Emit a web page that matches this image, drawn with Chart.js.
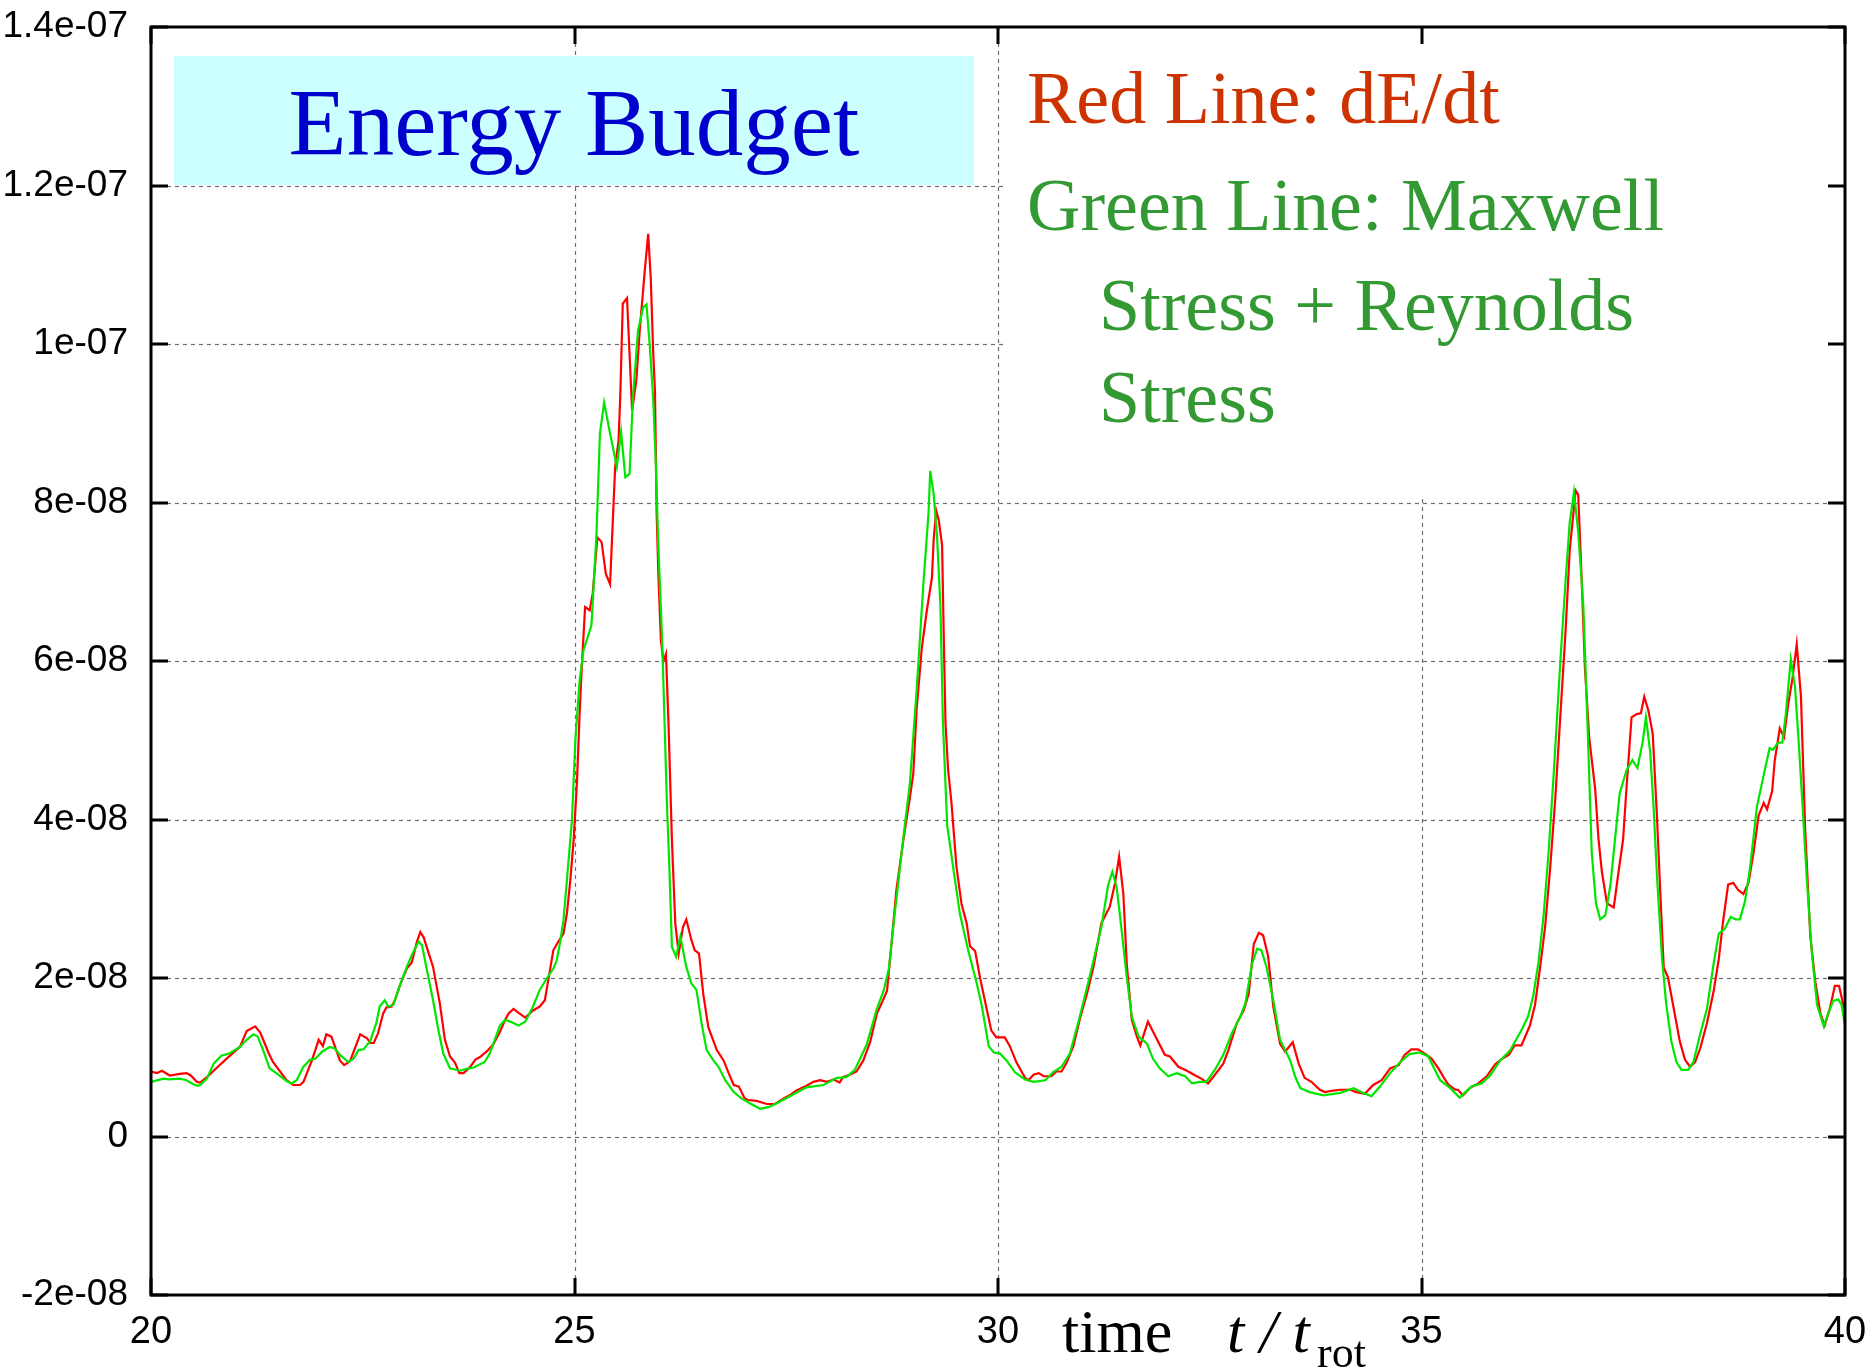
<!DOCTYPE html>
<html>
<head>
<meta charset="utf-8">
<title>Energy Budget</title>
<script src="https://cdn.jsdelivr.net/npm/chart.js@4.4.0/dist/chart.umd.min.js"></script>
<style>
  html, body { margin: 0; padding: 0; background: #ffffff; }
  #wrap { width: 1870px; height: 1372px; }
</style>
</head>
<body>
<div id="wrap"><canvas id="c" width="1870" height="1372"></canvas></div>
<script>
// Series values are listed in units of 1e-8.
const VALUE_UNIT = 1e-8;

// dE/dt (red)
const redTime = [
  20.00,20.07,20.13,20.22,20.34,20.42,20.47,20.54,20.58,20.66,
  20.78,20.89,21.05,21.13,21.23,21.29,21.39,21.44,21.60,21.68,
  21.76,21.80,21.90,21.98,22.03,22.07,22.13,22.23,22.28,22.35,
  22.47,22.55,22.59,22.63,22.68,22.74,22.78,22.84,22.88,22.94,
  23.02,23.08,23.14,23.18,23.22,23.33,23.41,23.47,23.53,23.59,
  23.64,23.69,23.77,23.83,23.88,23.96,24.04,24.12,24.18,24.22,
  24.28,24.34,24.42,24.51,24.59,24.65,24.69,24.75,24.81,24.87,
  24.91,24.95,24.99,25.03,25.06,25.085,25.125,25.18,25.215,25.27,
  25.32,25.37,25.42,25.48,25.52,25.54,25.57,25.62,25.68,25.73,
  25.77,25.83,25.87,25.90,25.93,25.95,25.97,25.99,26.02,26.05,
  26.08,26.11,26.15,26.19,26.23,26.28,26.32,26.38,26.42,26.47,
  26.52,26.58,26.68,26.76,26.82,26.88,26.94,27.01,27.05,27.15,
  27.27,27.37,27.47,27.54,27.62,27.74,27.82,27.90,27.98,28.06,
  28.13,28.17,28.25,28.33,28.41,28.49,28.57,28.63,28.69,28.74,
  28.80,28.88,28.96,29.00,29.04,29.10,29.16,29.22,29.24,29.27,
  29.30,29.34,29.36,29.38,29.41,29.45,29.51,29.57,29.63,29.67,
  29.73,29.79,29.85,29.92,29.98,30.08,30.14,30.22,30.32,30.36,
  30.42,30.48,30.54,30.63,30.69,30.75,30.81,30.89,30.97,31.05,
  31.13,31.22,31.32,31.38,31.43,31.48,31.52,31.58,31.64,31.68,
  31.77,31.87,31.97,32.03,32.13,32.23,32.33,32.40,32.48,32.54,
  32.66,32.72,32.82,32.90,32.96,33.02,33.08,33.13,33.19,33.25,
  33.33,33.39,33.48,33.55,33.62,33.70,33.80,33.86,33.96,34.04,
  34.16,34.23,34.33,34.43,34.53,34.63,34.73,34.80,34.88,34.96,
  35.06,35.12,35.20,35.26,35.32,35.40,35.43,35.49,35.57,35.67,
  35.77,35.87,35.95,36.03,36.10,36.18,36.28,36.34,36.40,36.46,
  36.52,36.58,36.64,36.70,36.75,36.82,36.85,36.89,36.93,36.98,
  37.05,37.09,37.13,37.19,37.27,37.32,37.38,37.42,37.48,37.54,
  37.59,37.63,37.68,37.73,37.78,37.82,37.86,37.91,37.97,38.05,
  38.11,38.17,38.23,38.29,38.37,38.45,38.51,38.56,38.62,38.68,
  38.74,38.80,38.86,38.92,38.98,39.04,39.08,39.14,39.17,39.23,
  39.28,39.33,39.38,39.43,39.48,39.53,39.59,39.65,39.71,39.76,
  39.82,39.88,39.93,39.98,40.00
];
const redValue = [
  0.82,0.80,0.83,0.77,0.79,0.80,0.77,0.69,0.68,0.75,
  0.87,0.98,1.13,1.33,1.39,1.31,1.05,0.94,0.71,0.65,
  0.65,0.69,0.96,1.22,1.14,1.29,1.26,0.96,0.90,0.95,
  1.29,1.24,1.18,1.18,1.30,1.55,1.63,1.64,1.72,1.91,
  2.12,2.20,2.46,2.58,2.51,2.14,1.68,1.22,1.01,0.93,
  0.80,0.80,0.88,0.97,1.00,1.07,1.16,1.32,1.47,1.55,
  1.61,1.56,1.50,1.59,1.64,1.72,1.97,2.35,2.46,2.56,
  2.81,3.23,3.74,4.49,5.33,5.90,6.68,6.64,6.85,7.56,
  7.50,7.10,6.97,8.45,8.78,9.33,10.51,10.58,9.16,9.54,
  10.17,10.93,11.39,10.84,9.87,9.41,7.86,7.10,6.26,6.00,
  6.09,5.21,3.74,2.69,2.31,2.64,2.74,2.48,2.35,2.31,
  1.80,1.38,1.09,0.96,0.80,0.65,0.63,0.48,0.46,0.45,
  0.41,0.41,0.48,0.52,0.58,0.64,0.69,0.71,0.69,0.72,
  0.68,0.75,0.78,0.82,0.96,1.19,1.55,1.69,1.84,2.40,
  3.11,3.72,4.28,4.58,5.40,6.16,6.64,7.05,7.52,7.90,
  7.78,7.46,6.28,5.22,4.64,4.22,3.40,2.93,2.69,2.40,
  2.34,1.99,1.69,1.34,1.25,1.25,1.14,0.93,0.74,0.71,
  0.78,0.80,0.76,0.76,0.82,0.82,0.93,1.14,1.50,1.80,
  2.15,2.69,2.90,3.19,3.53,3.06,2.18,1.47,1.26,1.15,
  1.45,1.24,1.03,1.01,0.88,0.83,0.77,0.73,0.67,0.75,
  0.92,1.09,1.43,1.59,1.80,2.43,2.57,2.54,2.27,1.64,
  1.17,1.07,1.19,0.92,0.74,0.69,0.59,0.56,0.58,0.59,
  0.59,0.56,0.54,0.65,0.71,0.86,0.90,1.03,1.10,1.10,
  1.03,0.98,0.86,0.75,0.65,0.59,0.59,0.52,0.61,0.67,
  0.76,0.91,0.98,1.03,1.15,1.15,1.40,1.66,2.13,2.65,
  3.40,4.27,5.32,6.36,7.40,8.15,8.10,7.06,5.90,5.03,
  4.39,3.75,3.34,2.94,2.89,3.29,3.75,4.39,5.29,5.33,
  5.34,5.55,5.37,5.08,4.04,3.06,2.13,2.01,1.66,1.20,
  0.97,0.88,0.94,1.11,1.43,1.84,2.24,2.71,3.18,3.20,
  3.11,3.06,3.20,3.58,4.05,4.21,4.13,4.36,4.74,5.15,
  5.04,5.46,5.78,6.21,5.55,3.87,2.53,1.95,1.55,1.40,
  1.61,1.90,1.90,1.66,1.61
];

// Maxwell stress + Reynolds stress (green)
const greenTime = [
  20.00,20.15,20.22,20.34,20.42,20.50,20.55,20.58,20.66,20.74,
  20.83,20.93,21.05,21.13,21.21,21.26,21.33,21.40,21.48,21.60,
  21.66,21.72,21.80,21.88,21.94,22.02,22.11,22.17,22.23,22.33,
  22.39,22.45,22.51,22.59,22.66,22.70,22.76,22.80,22.86,22.94,
  23.02,23.08,23.16,23.20,23.25,23.33,23.39,23.45,23.53,23.65,
  23.71,23.81,23.88,23.94,24.00,24.12,24.18,24.24,24.34,24.42,
  24.51,24.59,24.67,24.75,24.79,24.83,24.87,24.91,24.97,25.01,
  25.06,25.105,25.20,25.26,25.30,25.35,25.42,25.50,25.55,25.60,
  25.65,25.69,25.75,25.81,25.85,25.89,25.93,25.96,25.99,26.03,
  26.05,26.09,26.12,26.15,26.20,26.25,26.32,26.38,26.44,26.50,
  26.56,26.64,26.70,26.78,26.88,26.97,27.07,27.19,27.29,27.39,
  27.51,27.58,27.74,27.94,28.10,28.21,28.31,28.45,28.57,28.65,
  28.71,28.78,28.88,28.96,29.04,29.12,29.18,29.20,29.24,29.28,
  29.32,29.35,29.40,29.47,29.55,29.65,29.75,29.81,29.89,29.95,
  30.02,30.10,30.20,30.32,30.42,30.56,30.65,30.75,30.85,30.97,
  31.09,31.22,31.30,31.35,31.40,31.46,31.52,31.58,31.66,31.76,
  31.83,31.91,32.01,32.11,32.21,32.29,32.38,32.46,32.56,32.66,
  32.76,32.86,32.92,33.00,33.06,33.11,33.17,33.25,33.33,33.39,
  33.45,33.51,33.57,33.68,33.84,34.04,34.20,34.31,34.41,34.51,
  34.63,34.75,34.86,34.98,35.08,35.14,35.22,35.34,35.45,35.59,
  35.71,35.81,35.93,36.05,36.09,36.18,36.26,36.32,36.38,36.44,
  36.50,36.56,36.64,36.70,36.75,36.80,36.85,36.91,36.96,37.01,
  37.06,37.11,37.17,37.23,37.29,37.34,37.42,37.49,37.55,37.61,
  37.65,37.70,37.74,37.78,37.84,37.89,37.95,38.01,38.07,38.15,
  38.21,38.29,38.37,38.45,38.51,38.58,38.65,38.71,38.76,38.82,
  38.88,38.96,39.04,39.11,39.15,39.21,39.26,39.30,39.36,39.41,
  39.45,39.50,39.55,39.61,39.67,39.75,39.80,39.86,39.92,39.96,
  40.00
];
const greenValue = [
  0.69,0.73,0.72,0.73,0.71,0.66,0.64,0.65,0.73,0.92,
  1.02,1.05,1.13,1.22,1.29,1.26,1.07,0.86,0.80,0.70,
  0.67,0.71,0.88,0.97,0.98,1.07,1.13,1.11,1.03,0.94,
  0.98,1.09,1.10,1.21,1.43,1.64,1.72,1.64,1.66,1.91,
  2.14,2.29,2.46,2.41,2.14,1.72,1.36,1.05,0.86,0.83,
  0.85,0.87,0.91,0.94,1.05,1.40,1.47,1.45,1.40,1.45,
  1.64,1.85,1.99,2.12,2.22,2.45,2.73,3.23,3.99,5.00,
  5.75,6.13,6.45,7.61,8.87,9.26,8.87,8.45,8.89,8.32,
  8.36,9.33,10.17,10.46,10.50,9.96,9.29,8.49,7.44,6.40,
  5.71,4.24,3.40,2.39,2.27,2.52,2.14,1.93,1.85,1.43,
  1.09,0.96,0.88,0.71,0.56,0.48,0.42,0.35,0.37,0.42,
  0.49,0.53,0.62,0.65,0.74,0.75,0.84,1.16,1.61,1.84,
  2.11,2.81,3.75,4.46,5.64,6.99,7.87,8.40,8.11,7.58,
  6.69,5.22,3.93,3.40,2.81,2.34,1.93,1.64,1.14,1.06,
  1.05,0.96,0.81,0.72,0.69,0.71,0.81,0.88,1.05,1.53,
  2.05,2.64,3.17,3.34,3.15,2.60,2.01,1.51,1.26,1.17,
  0.98,0.86,0.76,0.80,0.76,0.67,0.69,0.69,0.84,1.03,
  1.30,1.51,1.68,2.18,2.37,2.35,2.14,1.72,1.22,1.09,
  0.96,0.75,0.61,0.56,0.52,0.55,0.61,0.55,0.51,0.63,
  0.80,0.94,1.04,1.06,1.01,0.88,0.71,0.61,0.49,0.63,
  0.67,0.77,0.96,1.09,1.17,1.34,1.52,1.78,2.19,2.77,
  3.58,4.56,6.01,7.00,7.75,8.13,7.63,6.71,5.20,3.58,
  2.94,2.74,2.79,3.17,3.81,4.33,4.62,4.75,4.65,4.97,
  5.29,4.85,4.16,3.29,2.24,1.66,1.20,0.94,0.84,0.84,
  0.94,1.29,1.61,2.19,2.56,2.62,2.77,2.74,2.74,2.97,
  3.40,4.16,4.56,4.90,4.88,4.97,4.97,5.32,6.02,5.67,
  5.03,4.16,3.23,2.30,1.66,1.39,1.55,1.71,1.73,1.66,
  1.40
];

// Axis ticks
const xTicks = [20, 25, 30, 35, 40];
const xTickLabels = ['20', '25', '30', '35', '40'];
const yTicks = [-2e-8, 0, 2e-8, 4e-8, 6e-8, 8e-8, 1e-7, 1.2e-7, 1.4e-7];
const yTickLabels = ['-2e-08', '0', '2e-08', '4e-08', '6e-08', '8e-08', '1e-07', '1.2e-07', '1.4e-07'];

// Texts
const titleText = 'Energy Budget';
const redKeyText = 'Red Line: dE/dt';
const greenKeyLines = ['Green Line: Maxwell', 'Stress + Reynolds', 'Stress'];

const toPoints = (ts, vs) => ts.map((t, i) => ({ x: t, y: vs[i] * VALUE_UNIT }));

const SERIF = '"Liberation Serif", "Times New Roman", serif';
const SANS = '"Liberation Sans", Arial, sans-serif';

// Grid, frame, inward ticks and annotation texts
const framePlugin = {
  id: 'gnuFrame',
  beforeDatasetsDraw(chart) {
    const { ctx, chartArea: a, scales: { x, y } } = chart;
    ctx.save();
    ctx.strokeStyle = '#6e6e6e';
    ctx.lineWidth = 1.2;
    ctx.setLineDash([4, 4]);
    yTicks.forEach(v => {
      if (v <= y.min || v >= y.max) return;
      const py = Math.round(y.getPixelForValue(v)) + 0.5;
      ctx.beginPath(); ctx.moveTo(a.left, py); ctx.lineTo(a.right, py); ctx.stroke();
    });
    xTicks.forEach(v => {
      if (v <= x.min || v >= x.max) return;
      const px = Math.round(x.getPixelForValue(v)) + 0.5;
      ctx.beginPath(); ctx.moveTo(px, a.bottom); ctx.lineTo(px, a.top); ctx.stroke();
    });
    ctx.setLineDash([]);
    // key area is kept clear of grid lines
    ctx.fillStyle = '#ffffff';
    ctx.fillRect(1003, a.top + 2, a.right - 1003 - 2, 497 - a.top);
    // title box
    ctx.fillStyle = '#ccffff';
    ctx.fillRect(174, 56, 800, 129);
    ctx.fillStyle = '#0000cc';
    ctx.font = '95px ' + SERIF;
    ctx.textAlign = 'center';
    ctx.textBaseline = 'alphabetic';
    ctx.fillText(titleText, 574, 155);
    ctx.restore();
  },
  afterDatasetsDraw(chart) {
    const { ctx, chartArea: a, scales: { x, y } } = chart;
    ctx.save();
    ctx.strokeStyle = '#000000';
    ctx.lineWidth = 3;
    ctx.strokeRect(a.left, a.top, a.right - a.left, a.bottom - a.top);
    const tl = 17;
    yTicks.forEach(v => {
      const py = Math.round(y.getPixelForValue(v));
      ctx.beginPath();
      ctx.moveTo(a.left, py); ctx.lineTo(a.left + tl, py);
      ctx.moveTo(a.right, py); ctx.lineTo(a.right - tl, py);
      ctx.stroke();
    });
    xTicks.forEach(v => {
      const px = Math.round(x.getPixelForValue(v));
      ctx.beginPath();
      ctx.moveTo(px, a.bottom); ctx.lineTo(px, a.bottom - tl);
      ctx.moveTo(px, a.top); ctx.lineTo(px, a.top + tl);
      ctx.stroke();
    });

    // key texts
    ctx.textAlign = 'left';
    ctx.textBaseline = 'alphabetic';
    ctx.font = '74px ' + SERIF;
    ctx.fillStyle = '#cc3300';
    ctx.fillText(redKeyText, 1027, 123);
    ctx.fillStyle = '#339933';
    ctx.fillText(greenKeyLines[0], 1027, 230);
    ctx.fillText(greenKeyLines[1], 1099, 330);
    ctx.fillText(greenKeyLines[2], 1099, 422);

    // x-axis title: time  t / t_rot
    ctx.fillStyle = '#000000';
    ctx.font = '62px ' + SERIF;
    ctx.fillText('time', 1062, 1352);
    ctx.font = 'italic 62px ' + SERIF;
    ctx.fillText('t / t', 1227, 1352);
    ctx.font = '44px ' + SERIF;
    ctx.fillText('rot', 1317, 1367);
    ctx.restore();
  }
};

new Chart(document.getElementById('c'), {
  type: 'line',
  data: {
    datasets: [
      {
        label: 'Maxwell Stress + Reynolds Stress',
        data: toPoints(greenTime, greenValue),
        borderColor: '#00e600',
        borderWidth: 2.2,
        pointRadius: 0,
        tension: 0,
        fill: false
      },
      {
        label: 'dE/dt',
        data: toPoints(redTime, redValue),
        borderColor: '#ff0000',
        borderWidth: 2.2,
        pointRadius: 0,
        tension: 0,
        fill: false
      }
    ]
  },
  options: {
    responsive: false,
    devicePixelRatio: 1,
    animation: false,
    layout: { padding: { left: 0, top: 27, right: 25, bottom: 0 } },
    plugins: {
      legend: { display: false },
      tooltip: { enabled: false },
      title: { display: false }
    },
    scales: {
      x: {
        type: 'linear',
        min: xTicks[0],
        max: xTicks[xTicks.length - 1],
        afterBuildTicks: s => { s.ticks = xTicks.map(v => ({ value: v })); },
        afterFit: s => { s.height = 77; s.paddingLeft = 0; s.paddingRight = 0; },
        grid: { display: false, drawTicks: false },
        border: { display: false },
        ticks: {
          autoSkip: false,
          maxRotation: 0,
          padding: 15,
          color: '#000000',
          font: { family: SANS, size: 38 },
          callback: (v, i) => xTickLabels[i]
        }
      },
      y: {
        type: 'linear',
        min: yTicks[0],
        max: yTicks[yTicks.length - 1],
        afterBuildTicks: s => { s.ticks = yTicks.map(v => ({ value: v })); },
        afterFit: s => { s.width = 151; s.paddingTop = 0; s.paddingBottom = 0; },
        grid: { display: false, drawTicks: false },
        border: { display: false },
        ticks: {
          autoSkip: false,
          padding: 23,
          color: '#000000',
          font: { family: SANS, size: 37 },
          callback: (v, i) => yTickLabels[i]
        }
      }
    }
  },
  plugins: [framePlugin]
});
</script>
</body>
</html>
